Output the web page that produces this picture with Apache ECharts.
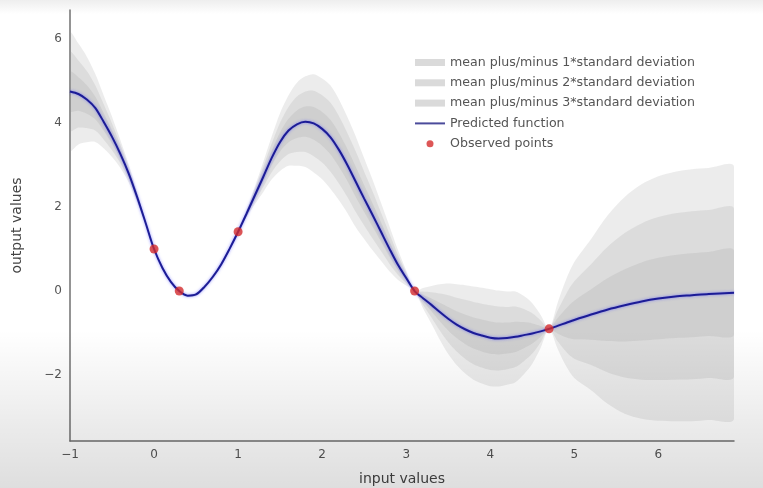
<!DOCTYPE html>
<html>
<head>
<meta charset="utf-8">
<script src="https://cdn.jsdelivr.net/npm/echarts@6/dist/echarts.min.js"></script>
<style>
  html, body { margin: 0; padding: 0; background: #fff; }
  #chart { width: 763px; height: 488px; }
</style>
</head>
<body>
<div id="chart"></div>
<script>
// values
const xs = [-1, -0.9, -0.8, -0.7, -0.6, -0.5, -0.4, -0.3, -0.2, -0.1,
  0, 0.1, 0.2, 0.3, 0.4, 0.5, 0.6, 0.7, 0.8, 0.9,
  1.0, 1.1, 1.2, 1.3, 1.4, 1.5, 1.6, 1.7, 1.8, 1.9,
  2.0, 2.1, 2.2, 2.3, 2.4, 2.5, 2.6, 2.7, 2.8, 2.9,
  3.0, 3.1, 3.2, 3.3, 3.4, 3.5, 3.6, 3.7, 3.8, 3.9,
  4.0, 4.1, 4.2, 4.3, 4.4, 4.5, 4.6, 4.7, 4.8, 4.9,
  5.0, 5.2, 5.4, 5.6, 5.8, 6.0, 6.2, 6.4, 6.6, 6.9];
const meanVals = [4.75, 4.69, 4.56, 4.36, 4.03, 3.67, 3.26, 2.79, 2.23, 1.62,
  1.0, 0.55, 0.22, 0.0, -0.11, -0.08, 0.1, 0.34, 0.64, 1.01,
  1.41, 1.84, 2.28, 2.72, 3.17, 3.55, 3.82, 3.97, 4.03, 3.99,
  3.86, 3.66, 3.36, 3.0, 2.6, 2.2, 1.81, 1.41, 1.01, 0.63,
  0.31, 0.0, -0.17, -0.33, -0.5, -0.66, -0.8, -0.91, -1.0, -1.06,
  -1.11, -1.13, -1.12, -1.09, -1.05, -1.01, -0.96, -0.9, -0.83, -0.76,
  -0.69, -0.56, -0.44, -0.34, -0.25, -0.18, -0.13, -0.1, -0.07, -0.04];
const stdVals = [0.47, 0.4, 0.34, 0.27, 0.21, 0.16, 0.11, 0.07, 0.04, 0.015,
  0, 0.005, 0.005, 0, 0.005, 0.01, 0.015, 0.015, 0.015, 0.01,
  0, 0.03, 0.07, 0.12, 0.17, 0.23, 0.28, 0.33, 0.36, 0.39,
  0.4, 0.41, 0.4, 0.38, 0.36, 0.32, 0.28, 0.23, 0.18, 0.12,
  0.06, 0, 0.08, 0.15, 0.22, 0.28, 0.32, 0.35, 0.37, 0.38,
  0.385, 0.38, 0.37, 0.36, 0.31, 0.24, 0.13, 0, 0.18, 0.34,
  0.46, 0.6, 0.75, 0.86, 0.93, 0.97, 0.99, 1.0, 1.0, 1.0];
const obsX = [0, 0.3, 1.0, 3.1, 4.7];
const obsY = [1.0, 0.0, 1.41, 0.0, -0.9];
const xTicks = [-1, 0, 1, 2, 3, 4, 5, 6];
const yTicks = [-2, 0, 2, 4, 6];
const bandNames = {
  1: 'mean plus/minus 1*standard deviation',
  2: 'mean plus/minus 2*standard deviation',
  3: 'mean plus/minus 3*standard deviation'
};

const chart = echarts.init(document.getElementById('chart'));

const bandFill = 'rgba(150,150,150,0.18)';
let series = [];
[3, 2, 1].forEach(k => {
  series.push({
    name: bandNames[k],
    type: 'custom',
    silent: true,
    clip: true,
    color: '#dadada',
    data: [[xs[0], meanVals[0]]],
    renderItem: function (params, api) {
      // band polygon: upper edge left to right, lower edge back
      const upper = xs.map((x, i) => api.coord([x, meanVals[i] + k * stdVals[i]]));
      const lower = xs.map((x, i) => api.coord([x, meanVals[i] - k * stdVals[i]])).reverse();
      return {
        type: 'polygon',
        shape: { points: upper.concat(lower), smooth: 0.3 },
        style: { fill: bandFill }
      };
    }
  });
});

series.push({
  name: 'Predicted function',
  type: 'line',
  smooth: 0.3,
  symbol: 'none',
  color: '#4b4b9b',
  lineStyle: {
    color: '#1c1c96',
    width: 2,
    shadowColor: 'rgba(90,90,255,0.7)',
    shadowBlur: 3
  },
  data: xs.map((x, i) => [x, meanVals[i]]),
  z: 5
});

series.push({
  name: 'Observed points',
  type: 'scatter',
  symbolSize: 9,
  itemStyle: { color: '#d42c2c' },
  data: obsX.map((x, i) => [x, obsY[i]]),
  z: 6
});

const minus = v => (v < 0 ? '\u2212' + Math.abs(v) : String(v));

const option = {
  backgroundColor: '#ffffff',
  animation: false,
  textStyle: { fontFamily: 'DejaVu Sans' },
  grid: { left: 70, right: 29, top: 10, bottom: 47, containLabel: false, outerBoundsMode: 'none' },
  legend: {
    orient: 'vertical',
    left: 410,
    top: 51,
    itemWidth: 30,
    itemHeight: 7,
    itemGap: 7.3,
    textStyle: { color: '#555', fontSize: 12.6, fontFamily: 'DejaVu Sans' },
    data: [
      { name: bandNames[1], icon: 'rect', itemStyle: { color: '#dadada' } },
      { name: bandNames[2], icon: 'rect', itemStyle: { color: '#dadada' } },
      { name: bandNames[3], icon: 'rect', itemStyle: { color: '#dadada' } },
      { name: 'Predicted function', icon: 'path://M0,0 H30 V2 H0 Z', itemStyle: { color: '#4b4b9b' } },
      { name: 'Observed points', icon: 'circle', itemStyle: { color: '#d42c2c' } }
    ]
  },
  xAxis: {
    type: 'value',
    min: -1,
    max: 6.9,
    name: 'input values',
    nameLocation: 'middle',
    nameGap: 31,
    nameTextStyle: { color: '#444', fontSize: 14 },
    axisLine: { onZero: false, lineStyle: { color: '#707070', width: 1.5 } },
    axisTick: { show: false },
    splitLine: { show: false },
    axisLabel: { customValues: xTicks, color: '#555', fontSize: 12, margin: 8, formatter: minus }
  },
  yAxis: {
    type: 'value',
    min: -3.57,
    max: 6.69,
    name: 'output values',
    nameLocation: 'middle',
    nameGap: 46,
    nameTextStyle: { color: '#444', fontSize: 14 },
    axisLine: { show: true, onZero: false, lineStyle: { color: '#707070', width: 1.5 } },
    axisTick: { show: false },
    splitLine: { show: false },
    axisLabel: { customValues: yTicks, color: '#555', fontSize: 12, margin: 8, formatter: minus }
  },
  graphic: [
    {
      type: 'rect', left: 0, top: 0, z: -10, silent: true,
      shape: { width: 763, height: 14 },
      style: { fill: new echarts.graphic.LinearGradient(0, 0, 0, 1, [
        { offset: 0, color: '#eeeeee' }, { offset: 1, color: '#ffffff' }]) }
    },
    {
      type: 'rect', left: 0, top: 330, z: 100, silent: true,
      shape: { width: 763, height: 158 },
      style: { fill: new echarts.graphic.LinearGradient(0, 0, 0, 1, [
        { offset: 0, color: 'rgba(0,0,0,0)' }, { offset: 1, color: 'rgba(0,0,0,0.13)' }]) }
    }
  ],
  series: series
};

chart.setOption(option);
</script>
</body>
</html>
